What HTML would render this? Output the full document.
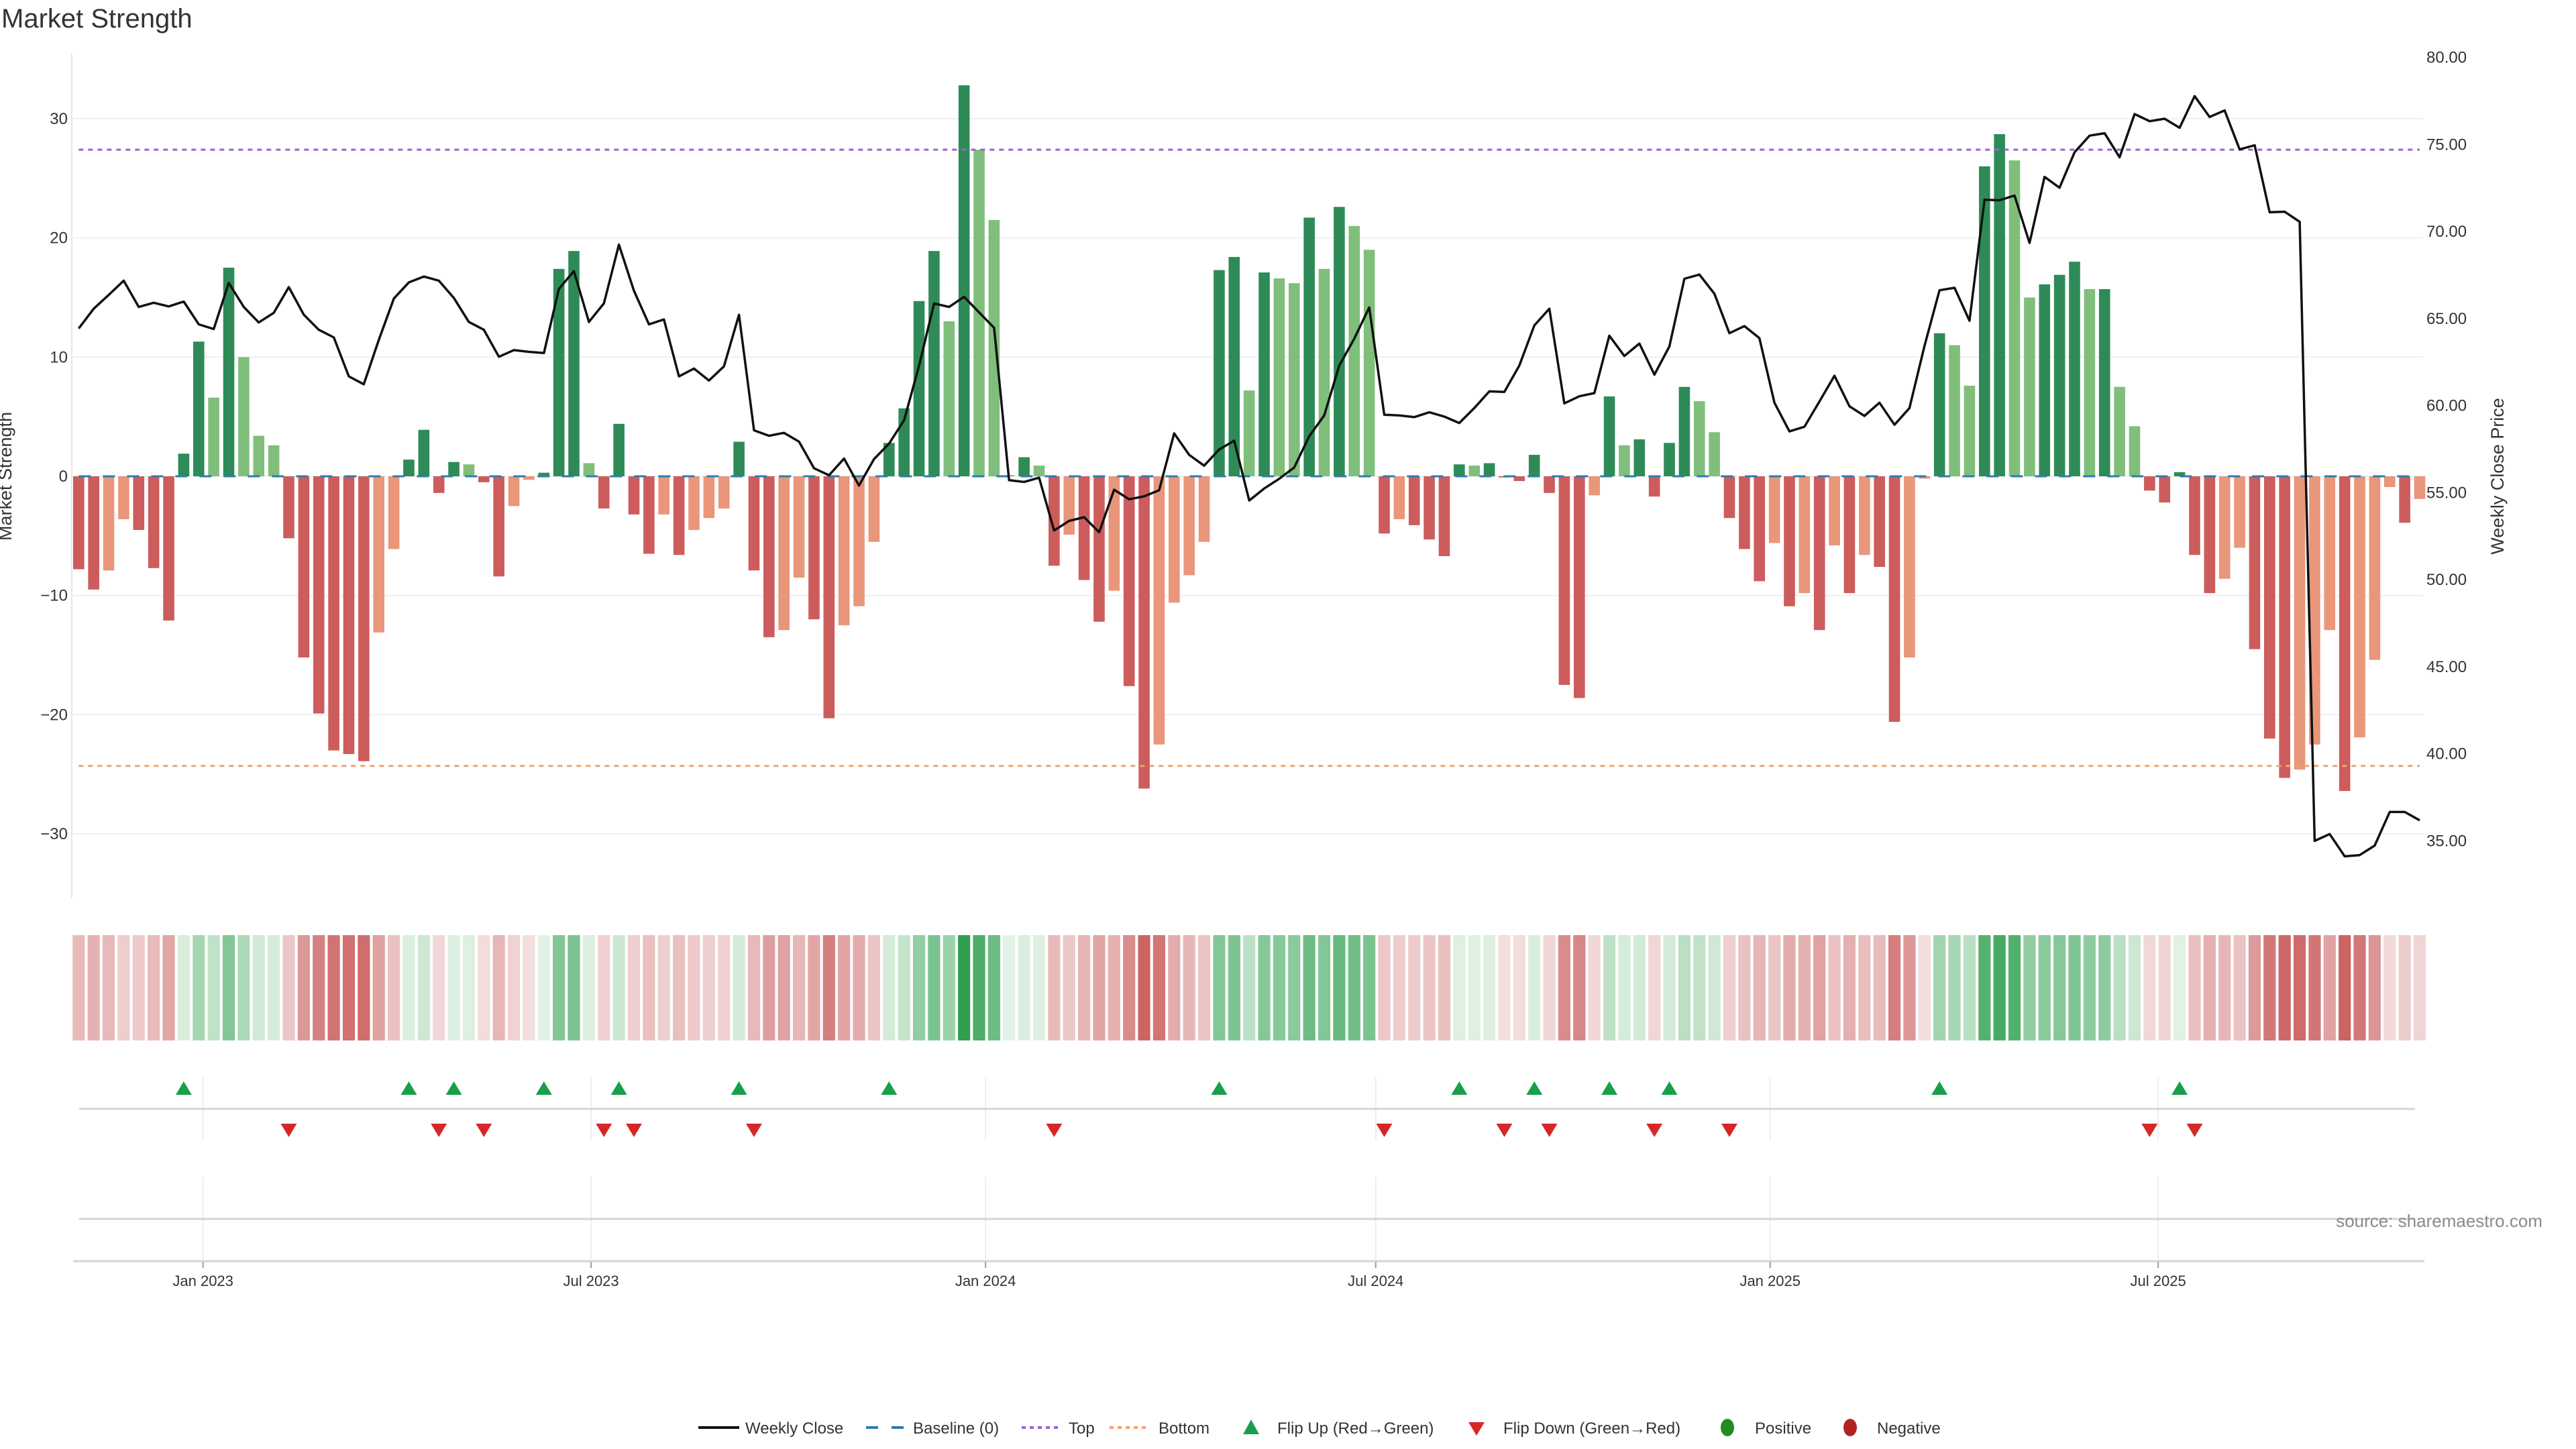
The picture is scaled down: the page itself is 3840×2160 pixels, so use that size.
<!DOCTYPE html>
<html><head><meta charset="utf-8"><title>Market Strength</title>
<style>
html,body{margin:0;padding:0;background:#fff;}
svg{display:block;font-family:"Liberation Sans","DejaVu Sans",sans-serif;}
</style></head>
<body>
<svg id="chart" xmlns="http://www.w3.org/2000/svg" width="3840" height="2160" viewBox="0 0 3840 2160">
<rect x="0" y="0" width="3840" height="2160" fill="#fff"/>
<text x="2" y="41" font-size="40" fill="#333">Market Strength</text>
<g id="grid"></g>
<g id="bars"></g>
<g id="refs"></g>
<g id="price"></g>
<g id="axes"></g>
<g id="heat"></g>
<g id="signals"></g>
<text x="17" y="710" font-size="27" fill="#333" text-anchor="middle" transform="rotate(-90 17 710)">Market Strength</text>
<text x="3732" y="710" font-size="27" fill="#333" text-anchor="middle" transform="rotate(-90 3732 710)">Weekly Close Price</text>
<text x="3790" y="1829" font-size="26" fill="#8a8a8a" text-anchor="end">source: sharemaestro.com</text>
<g id="legend" font-size="24" fill="#333">
  <g>
    <line x1="1041" y1="2128" x2="1102" y2="2128" stroke="#111" stroke-width="4"/>
    <text x="1111" y="2137">Weekly Close</text>
  </g>
  <g>
    <line x1="1291" y1="2128" x2="1347" y2="2128" stroke="#2f7bb0" stroke-width="4" stroke-dasharray="18 20"/>
    <text x="1361" y="2137">Baseline (0)</text>
  </g>
  <g>
    <line x1="1523" y1="2128" x2="1580" y2="2128" stroke="#9d5fd6" stroke-width="4" stroke-dasharray="6 6"/>
    <text x="1593" y="2137">Top</text>
  </g>
  <g>
    <line x1="1654" y1="2128" x2="1710" y2="2128" stroke="#f0a36a" stroke-width="4" stroke-dasharray="6 6"/>
    <text x="1727" y="2137">Bottom</text>
  </g>
  <g>
    <polygon points="1865,2116 1877,2138 1853,2138" fill="#17a04a"/>
    <text x="1904" y="2137">Flip Up (Red→Green)</text>
  </g>
  <g>
    <polygon points="2189,2120 2213,2120 2201,2140" fill="#d62728"/>
    <text x="2241" y="2137">Flip Down (Green→Red)</text>
  </g>
  <g>
    <ellipse cx="2575" cy="2128" rx="10" ry="13" fill="#228b22"/>
    <text x="2616" y="2137">Positive</text>
  </g>
  <g>
    <ellipse cx="2758" cy="2128" rx="10" ry="13" fill="#b22222"/>
    <text x="2798" y="2137">Negative</text>
  </g>
</g>
</svg>
<script>
// ---- data ----
const startDate = "2022-11-04";
const strength = [
-7.8,-9.5,-7.9,-3.6,-4.5,-7.7,-12.1,1.9,11.3,6.6,
17.5,10.0,3.4,2.6,-5.2,-15.2,-19.9,-23.0,-23.3,-23.9,
-13.1,-6.1,1.4,3.9,-1.4,1.2,1.0,-0.5,-8.4,-2.5,
-0.3,0.3,17.4,18.9,1.1,-2.7,4.4,-3.2,-6.5,-3.2,
-6.6,-4.5,-3.5,-2.7,2.9,-7.9,-13.5,-12.9,-8.5,-12.0,
-20.3,-12.5,-10.9,-5.5,2.8,5.7,14.7,18.9,13.0,32.8,
27.4,21.5,0.1,1.6,0.9,-7.5,-4.9,-8.7,-12.2,-9.6,
-17.6,-26.2,-22.5,-10.6,-8.3,-5.5,17.3,18.4,7.2,17.1,
16.6,16.2,21.7,17.4,22.6,21.0,19.0,-4.8,-3.6,-4.1,
-5.3,-6.7,1.0,0.9,1.1,-0.1,-0.4,1.8,-1.4,-17.5,
-18.6,-1.6,6.7,2.6,3.1,-1.7,2.8,7.5,6.3,3.7,
-3.5,-6.1,-8.8,-5.6,-10.9,-9.8,-12.9,-5.8,-9.8,-6.6,
-7.6,-20.6,-15.2,-0.2,12.0,11.0,7.6,26.0,28.7,26.5,
15.0,16.1,16.9,18.0,15.7,15.7,7.5,4.2,-1.2,-2.2,
0.35,-6.6,-9.8,-8.6,-6.0,-14.5,-22.0,-25.3,-24.6,-22.5,
-12.9,-26.4,-21.9,-15.4,-0.9,-3.9,-1.9
];
const closePrice = [
64.43,65.57,66.36,67.18,65.67,65.91,65.70,65.98,64.67,64.40,
67.05,65.67,64.78,65.33,66.81,65.22,64.36,63.92,61.68,61.23,
63.78,66.15,67.08,67.42,67.18,66.19,64.81,64.36,62.81,63.19,
63.09,63.02,66.70,67.73,64.81,65.88,69.25,66.60,64.67,64.95,
61.68,62.13,61.44,62.26,65.22,58.58,58.27,58.44,57.93,56.41,
56.00,56.96,55.41,56.93,57.82,59.16,62.29,65.87,65.67,66.25,
65.36,64.47,55.72,55.62,55.86,52.83,53.38,53.59,52.73,55.17,
54.62,54.79,55.14,58.41,57.17,56.55,57.48,57.99,54.55,55.24,
55.80,56.45,58.24,59.44,62.30,63.85,65.64,59.48,59.44,59.34,
59.62,59.37,59.00,59.86,60.82,60.79,62.30,64.61,65.57,60.13,
60.54,60.72,64.02,62.85,63.57,61.78,63.40,67.29,67.53,66.43,
64.16,64.57,63.88,60.17,58.52,58.79,60.24,61.72,59.96,59.41,
60.17,58.90,59.86,63.43,66.63,66.77,64.88,71.83,71.80,72.07,
69.35,73.14,72.52,74.55,75.51,75.65,74.27,76.75,76.34,76.48,
75.96,77.78,76.58,76.96,74.72,74.96,71.11,71.14,70.56,35.00,
35.39,34.11,34.18,34.73,36.66,36.66,36.18
];
const topLevel = 27.4;
const bottomLevel = -24.3;
const yTicks = [30,20,10,0,-10,-20,-30];
const y2Ticks = [80,75,70,65,60,55,50,45,40,35];
const xTickDates = ["2023-01-01","2023-07-01","2024-01-01","2024-07-01","2025-01-01","2025-07-01"];
const xTickLabels = ["Jan 2023","Jul 2023","Jan 2024","Jul 2024","Jan 2025","Jul 2025"];

// ---- scales ----
const NS = "http://www.w3.org/2000/svg";
const X0 = 117.3, STEP = 22.37;
const PLOT_L = 107, PLOT_R = 3612, PLOT_T = 80, PLOT_B = 1339;
function xIdx(i){ return X0 + i*STEP; }
function xDate(d){ const days=(new Date(d+"T00:00:00Z")-new Date(startDate+"T00:00:00Z"))/86400000; return X0 + days/7*STEP; }
function yS(v){ return 710 - v*17.77; }
function yP(p){ return 85.7 + (80-p)*25.95; }
function mk(tag, attrs, parent){ const e=document.createElementNS(NS,tag); for(const k in attrs) e.setAttribute(k, attrs[k]); parent.appendChild(e); return e; }
function fmtNum(v){ return v<0 ? "\u2212"+Math.abs(v) : String(v); }
function lerp(a,b,t){ return Math.round(a+(b-a)*t); }

const n = strength.length;
const lastX = xIdx(n-1);

const grid = document.getElementById("grid");
const axes = document.getElementById("axes");
yTicks.forEach(v=>{
  const g = mk("line",{x1:PLOT_L,x2:PLOT_R,y1:yS(v),y2:yS(v),stroke:"#edf0f4","stroke-width":2},grid);
  
  
  const t = mk("text",{x:101,y:yS(v)+8,"font-size":24,fill:"#333","text-anchor":"end"},axes);
  t.textContent = fmtNum(v);
  
  
});
y2Ticks.forEach(p=>{
  const t = mk("text",{x:3617,y:yP(p)+8,"font-size":24,fill:"#333"},axes);
  t.textContent = p.toFixed(2);
  
  
});
const yax = mk("line",{x1:PLOT_L,x2:PLOT_L,y1:PLOT_T,y2:PLOT_B,stroke:"#e6e6e6","stroke-width":2},axes);



const bars = document.getElementById("bars");
strength.forEach((v,i)=>{
  const prev = i>0 ? strength[i-1] : v;
  let col;
  if(v>=0) col = (v>=prev) ? "#2e8b57" : "#7fbf7b";
  else col = (v<=prev) ? "#cd5c5c" : "#e9967a";
  const y0 = yS(0), y1 = yS(v);
  const r = mk("rect",{x:xIdx(i)-8.3,width:16.6,y:Math.min(y0,y1),height:Math.max(Math.abs(y1-y0),0.5),fill:col},bars);
  
  
});

const refs = document.getElementById("refs");
const bl = mk("line",{x1:X0,x2:lastX,y1:yS(0),y2:yS(0),stroke:"#2f7bb0","stroke-width":3,"stroke-dasharray":"18 18"},refs);


const tl = mk("line",{x1:X0,x2:lastX,y1:yS(topLevel),y2:yS(topLevel),stroke:"#9d5fd6","stroke-width":3,"stroke-dasharray":"7 7"},refs);


const btl = mk("line",{x1:X0,x2:lastX,y1:yS(bottomLevel),y2:yS(bottomLevel),stroke:"#f0a36a","stroke-width":3,"stroke-dasharray":"7 7"},refs);



const price = document.getElementById("price");
const pts = closePrice.map((p,i)=>xIdx(i).toFixed(1)+","+yP(p).toFixed(1)).join(" ");
const pl = mk("polyline",{points:pts,fill:"none",stroke:"#111","stroke-width":3.5,"stroke-linejoin":"round"},price);



const heat = document.getElementById("heat");
strength.forEach((v,i)=>{
  let c;
  if(v>=0){ const t=Math.min(v/33,1); c=`rgb(${lerp(227,46,t)},${lerp(242,160,t)},${lerp(230,79,t)})`; }
  else { const t=Math.min(-v/27,1); c=`rgb(${lerp(243,204,t)},${lerp(222,96,t)},${lerp(222,96,t)})`; }
  const r = mk("rect",{x:xIdx(i)-9.1,width:18.2,y:1394,height:157,fill:c},heat);
  
  
});

const sig = document.getElementById("signals");
xTickDates.forEach((d,k)=>{
  const x = xDate(d);
  const g1 = mk("line",{x1:x,x2:x,y1:1606,y2:1700,stroke:"#eceef2","stroke-width":2},sig);
  
  
  const g2 = mk("line",{x1:x,x2:x,y1:1754,y2:1880,stroke:"#eceef2","stroke-width":2},sig);
  
  
  const tk = mk("line",{x1:x,x2:x,y1:1880,y2:1890,stroke:"#999","stroke-width":2},sig);
  
  
  const t = mk("text",{x:x,y:1917,"font-size":22,fill:"#333","text-anchor":"middle"},sig);
  t.textContent = xTickLabels[k];
  
  
});
const sl = mk("line",{x1:118,x2:3600,y1:1653,y2:1653,stroke:"#d4d4d4","stroke-width":3},sig);


const sl2 = mk("line",{x1:118,x2:3600,y1:1817,y2:1817,stroke:"#d4d4d4","stroke-width":3},sig);


const xa = mk("line",{x1:109,x2:3614,y1:1880,y2:1880,stroke:"#d4d4d4","stroke-width":3},sig);


strength.forEach((v,i)=>{
  if(i===0) return;
  const p = strength[i-1];
  const x = xIdx(i);
  if(p<0 && v>=0){
    const t = mk("polygon",{points:`${x},1612 ${x+12},1632 ${x-12},1632`,fill:"#17a04a"},sig);
    
    
  } else if(p>=0 && v<0){
    const t = mk("polygon",{points:`${x-12},1675 ${x+12},1675 ${x},1695`,fill:"#d62728"},sig);
    
    
  }
});
</script>
</body></html>
